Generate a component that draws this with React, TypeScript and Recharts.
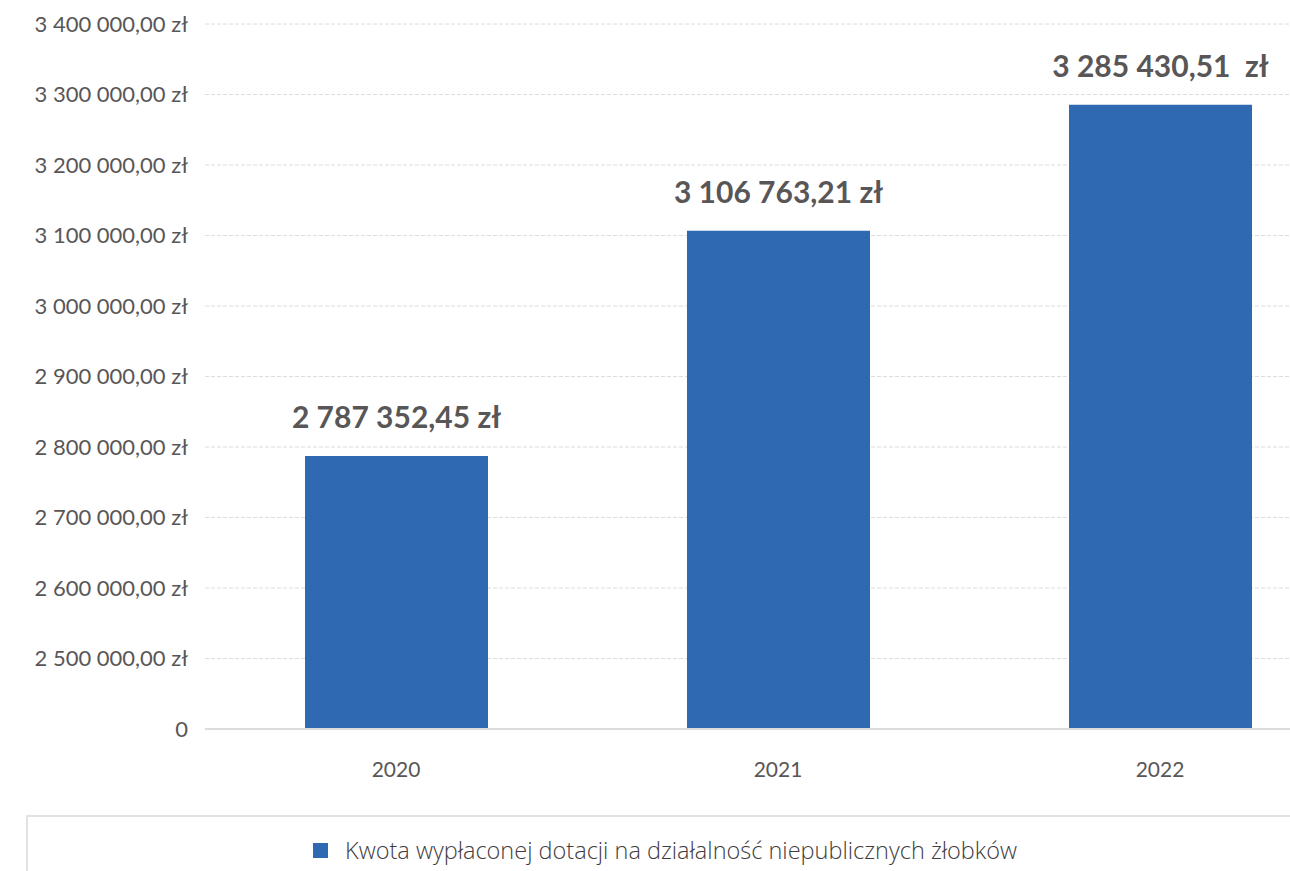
import React from "react";
import {
  Bar,
  BarChart,
  CartesianGrid,
  LabelList,
  Legend,
  XAxis,
  YAxis,
} from "recharts";

// dane
const years = ["2020", "2021", "2022"];
const amounts = [2787352.45, 3106763.21, 3285430.51];
const amountLabels = ["2 787 352,45 zł", "3 106 763,21 zł", "3 285 430,51  zł"];
const yTicks = [
  2400000, 2500000, 2600000, 2700000, 2800000, 2900000, 3000000, 3100000,
  3200000, 3300000, 3400000,
];
const seriesName = "Kwota wypłaconej dotacji na działalność niepublicznych żłobków";

// the axis is broken: its lowest tick stands for 0
const AXIS_FLOOR = yTicks[0];

const NBSP = "\u00A0";
const FONT = "Lato, 'Open Sans', sans-serif";
const TEXT = "#595657";
const BAR = "#2e69b1";
const GRID = "#dcdcdc";

function formatZl(v: number): string {
  if (v === AXIS_FLOOR) return "0";
  const int = Math.round(v)
    .toString()
    .replace(/\B(?=(\d{3})+(?!\d))/g, NBSP);
  return `${int},00${NBSP}zł`;
}

const chartData = years.map((year, i) => ({
  year,
  amount: amounts[i],
  label: amountLabels[i].replace(/ /g, NBSP),
}));

function LegendContent() {
  return (
    <div
      style={{
        display: "flex",
        justifyContent: "center",
        alignItems: "center",
        paddingTop: 17,
        fontFamily: "'Open Sans', Lato, sans-serif",
        fontWeight: 300,
        fontSize: 23.5,
        color: "#3f3c3d",
      }}
    >
      <span
        style={{
          display: "inline-block",
          width: 15,
          height: 15,
          background: BAR,
          marginRight: 17,
        }}
      />
      <span>{seriesName}</span>
    </div>
  );
}

export default function App() {
  return (
    <div
      style={{
        position: "absolute",
        left: 0,
        top: 0,
        width: 1290,
        height: 871,
        overflow: "hidden",
        background: "#fff",
      }}
    >
      <BarChart
        width={1351}
        height={871}
        data={chartData}
        margin={{ top: 24, right: 0, bottom: 82, left: 0 }}
      >
        <CartesianGrid
          vertical={false}
          stroke={GRID}
          strokeDasharray="4 2"
        />
        <XAxis
          dataKey="year"
          height={60}
          axisLine={{ stroke: GRID, strokeWidth: 2 }}
          tickLine={false}
          tickSize={0}
          tickMargin={33}
          tick={{ fill: TEXT, fontSize: 21, fontFamily: FONT }}
        />
        <YAxis
          width={205}
          domain={[AXIS_FLOOR, yTicks[yTicks.length - 1]]}
          ticks={yTicks}
          interval={0}
          axisLine={false}
          tickLine={false}
          tickSize={0}
          tickMargin={17}
          tickFormatter={formatZl}
          tick={{ fill: TEXT, fontSize: 22, fontFamily: FONT }}
        />
        <Legend
          layout="horizontal"
          verticalAlign="middle"
          align="center"
          content={<LegendContent />}
          wrapperStyle={{
            left: 26,
            top: 815,
            width: 1278,
            height: 90,
            border: "2px solid #e2e2e2",
            borderBottom: "none",
            boxSizing: "border-box",
          }}
        />
        <Bar
          dataKey="amount"
          name={seriesName}
          fill={BAR}
          barSize={183}
          isAnimationActive={false}
        >
          <LabelList
            dataKey="label"
            position="top"
            offset={28}
            fill={TEXT}
            style={{ fontSize: 30, fontWeight: 700, fontFamily: FONT }}
          />
        </Bar>
      </BarChart>
    </div>
  );
}
